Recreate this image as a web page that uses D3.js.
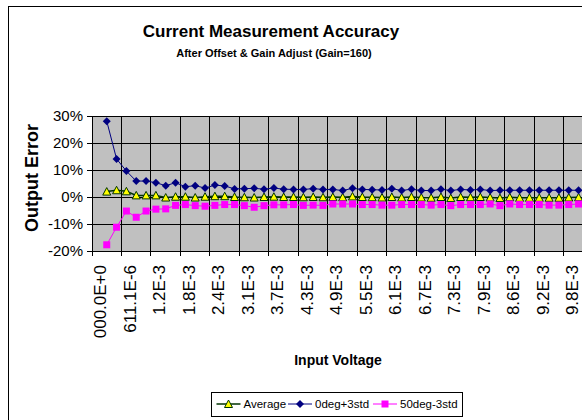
<!DOCTYPE html>
<html>
<head>
<meta charset="utf-8">
<script src="https://cdn.jsdelivr.net/npm/d3@7"></script>
<style>
body{margin:0;background:#fff;overflow:hidden}
text{font-family:"Liberation Sans",Arial,sans-serif;fill:#000}
</style>
</head>
<body>
<div id="chart"></div>
<script>
// labels shown every 3rd category
var xTickLabels = ['000.0E+0','611.1E-6','1.2E-3','1.8E-3','2.4E-3','3.1E-3','3.7E-3','4.3E-3','4.9E-3',
  '5.5E-3','6.1E-3','6.7E-3','7.3E-3','7.9E-3','8.6E-3','9.2E-3','9.8E-3']
var yTicks = [-20, -10, 0, 10, 20, 30]

// percent error, first category (0 V) has no value
var average = [null, 2.0, 2.5, 2.1, 0.6, 0.6, 0.6, -0.2, 0.1, 0.1, -0.2,
  0.1, 0.3, 0.3, 0.0, -0.1, -0.2, 0.0, 0.1, 0.0, 0.0,
  -0.1, 0.0, -0.1, 0.0, -0.1, 0.2, 0.0, -0.1, -0.2, 0.0,
  -0.2, 0.0, -0.2, -0.3, 0.0, -0.4, 0.0, -0.1, 0.0, -0.2,
  -0.4, -0.1, -0.3, -0.3, -0.3, -0.3, -0.3, -0.2, -0.1]
var plus3std = [null, 28.1, 14.1, 9.6, 5.9, 5.9, 5.3, 4.2, 5.3, 3.8, 4.2,
  3.3, 4.4, 4.1, 3.0, 3.1, 3.2, 2.9, 3.3, 2.9, 2.8,
  2.8, 3.1, 2.8, 2.8, 2.4, 3.2, 2.8, 2.7, 2.6, 3.1,
  2.4, 2.9, 2.4, 2.4, 2.9, 2.4, 2.8, 2.6, 2.8, 2.4,
  2.5, 2.5, 2.5, 2.5, 2.5, 2.5, 2.5, 2.5, 2.5]
var minus3std = [null, -17.7, -11.2, -5.2, -7.5, -5.2, -4.5, -4.4, -3.1, -2.8, -3.2,
  -3.4, -3.1, -2.8, -2.8, -3.2, -3.8, -3.2, -2.9, -2.9, -2.8,
  -3.1, -3.0, -3.1, -2.6, -2.6, -2.6, -2.8, -2.8, -3.0, -3.0,
  -2.8, -2.8, -2.8, -3.0, -2.8, -3.2, -2.8, -2.8, -2.8, -2.6,
  -3.2, -2.6, -2.8, -2.8, -2.8, -3.0, -3.0, -2.8, -2.6]

var series = [
  {name: 'Average', values: average, line: '#003300', lw: 1.5, marker: 'triangle'},
  {name: '0deg+3std', values: plus3std, line: '#000080', lw: 1, marker: 'diamond'},
  {name: '50deg-3std', values: minus3std, line: '#ff00ff', lw: 1, marker: 'square'}
]

var svg = d3.select('#chart').append('svg').attr('width', 582).attr('height', 420)

// chart frame (runs off the right / bottom edge)
svg.append('rect').attr('x', 8.5).attr('y', 6.5).attr('width', 700).attr('height', 500)
  .attr('fill', '#fff').attr('stroke', '#000')

var x = d3.scaleBand().domain(d3.range(average.length)).range([92, 583.5])
var y = d3.scaleLinear().domain([-20, 30]).range([251, 116])
var bw = x.bandwidth()
var cx = function(i){ return x(i) + bw / 2 }
var tickCats = d3.range(0, average.length, 3).slice(0, xTickLabels.length)

var plot = svg.append('g').attr('shape-rendering', 'crispEdges')
plot.append('rect').attr('x', 92).attr('y', y(30)).attr('width', x.range()[1] - 92)
  .attr('height', y(-20) - y(30)).attr('fill', '#c0c0c0')

plot.selectAll('.hg').data(yTicks).enter().append('line')
  .attr('x1', 92).attr('x2', x.range()[1]).attr('y1', y).attr('y2', y).attr('stroke', '#000')
plot.selectAll('.vg').data(tickCats.slice(1)).enter().append('line')
  .attr('x1', x).attr('x2', x).attr('y1', y(30)).attr('y2', y(-20)).attr('stroke', '#000')

// axes
plot.append('line').attr('x1', 92).attr('x2', 92).attr('y1', y(30)).attr('y2', y(-20)).attr('stroke', '#000')
plot.append('line').attr('x1', 92).attr('x2', x.range()[1]).attr('y1', y(-20)).attr('y2', y(-20)).attr('stroke', '#000')
plot.selectAll('.yt').data(yTicks).enter().append('line')
  .attr('x1', 87).attr('x2', 92).attr('y1', y).attr('y2', y).attr('stroke', '#000')
plot.selectAll('.xt').data(tickCats).enter().append('line')
  .attr('x1', x).attr('x2', x).attr('y1', y(-20)).attr('y2', y(-20) + 5).attr('stroke', '#000')

svg.selectAll('.yl').data(yTicks).enter().append('text')
  .attr('x', 83).attr('y', y).attr('dy', '0.36em').attr('text-anchor', 'end')
  .style('font-size', '15px').text(function(d){ return d + '%' })

svg.selectAll('.xl').data(tickCats).enter().append('text')
  .attr('transform', function(d){ return 'translate(' + cx(d) + ',265) rotate(-90)' })
  .attr('dy', '0.56em').attr('text-anchor', 'end').style('font-size', '17px')
  .text(function(d, i){ return xTickLabels[i] })

// series
function marker(g, type, px, py, s){
  if (type == 'triangle') {
    g.append('path').attr('d', 'M' + px + ',' + (py - 4) + 'L' + (px + 4) + ',' + (py + 3.5) + 'L' + (px - 4) + ',' + (py + 3.5) + 'Z')
      .attr('fill', '#ffff00').attr('stroke', s.line).attr('stroke-width', 1)
  } else if (type == 'diamond') {
    g.append('path').attr('d', 'M' + px + ',' + (py - 4) + 'L' + (px + 4) + ',' + py + 'L' + px + ',' + (py + 4) + 'L' + (px - 4) + ',' + py + 'Z')
      .attr('fill', s.line)
  } else {
    g.append('rect').attr('x', px - 3.5).attr('y', py - 3.5).attr('width', 7).attr('height', 7).attr('fill', s.line)
  }
}

var line = d3.line().defined(function(d){ return d != null })
  .x(function(d, i){ return cx(i) }).y(function(d){ return y(d) })

series.forEach(function(s){
  var g = svg.append('g')
  g.append('path').attr('d', line(s.values)).attr('fill', 'none')
    .attr('stroke', s.line).attr('stroke-width', s.lw)
  s.values.forEach(function(v, i){
    if (v != null) marker(g, s.marker, cx(i), y(v), s)
  })
})

// titles
svg.append('text').attr('x', 271).attr('y', 37).attr('text-anchor', 'middle')
  .style('font-size', '17px').style('font-weight', 'bold').text('Current Measurement Accuracy')
svg.append('text').attr('x', 274).attr('y', 57).attr('text-anchor', 'middle')
  .style('font-size', '11px').style('font-weight', 'bold').text('After Offset & Gain Adjust (Gain=160)')
svg.append('text').attr('transform', 'translate(38,178) rotate(-90)').attr('text-anchor', 'middle')
  .style('font-size', '18px').style('font-weight', 'bold').text('Output Error')
svg.append('text').attr('x', 338).attr('y', 365).attr('text-anchor', 'middle')
  .style('font-size', '14px').style('font-weight', 'bold').text('Input Voltage')

// legend
var leg = svg.append('g')
leg.append('rect').attr('x', 211.5).attr('y', 392.5).attr('width', 251).attr('height', 24)
  .attr('fill', '#fff').attr('stroke', '#000')
var legX = [216.5, 288, 373]
series.forEach(function(s, i){
  var lx = legX[i], ly = 404
  leg.append('line').attr('x1', lx).attr('x2', lx + 24).attr('y1', ly).attr('y2', ly)
    .attr('stroke', s.line).attr('stroke-width', s.lw)
  marker(leg, s.marker, lx + 12, ly, s)
  leg.append('text').attr('x', lx + 27).attr('y', ly).attr('dy', '0.36em')
    .style('font-size', '11.5px').text(s.name)
})
</script>
</body>
</html>
